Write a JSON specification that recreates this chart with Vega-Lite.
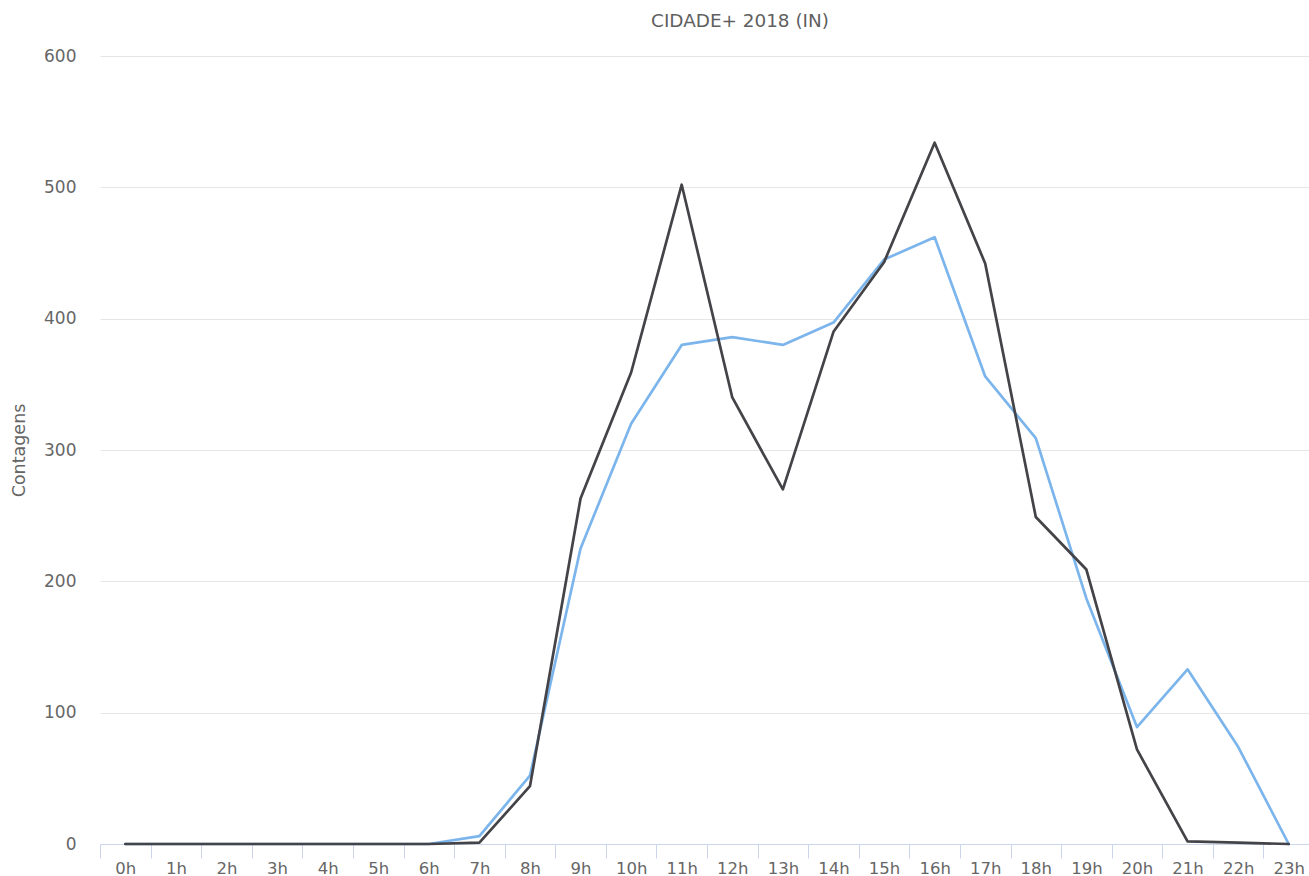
{
  "$schema": "https://vega.github.io/schema/vega-lite/v6.json",
  "autosize": "none",
  "width": 1214,
  "height": 788,
  "padding": {"left": 100, "top": 56, "right": -5, "bottom": 32},
  "background": "white",
  "title": {"text": "CIDADE+ 2018 (IN)", "font": "DejaVu Sans", "fontSize": 18.4, "fontWeight": "normal", "color": "#5f5f5f", "offset": 17, "anchor": "middle", "dx": 33},
  "config": {"view": {"stroke": null}, "font": "DejaVu Sans"},
  "data": {"values": [
    {"h": "0h", "s": "A", "v": 0}, {"h": "1h", "s": "A", "v": 0}, {"h": "2h", "s": "A", "v": 0}, {"h": "3h", "s": "A", "v": 0},
    {"h": "4h", "s": "A", "v": 0}, {"h": "5h", "s": "A", "v": 0}, {"h": "6h", "s": "A", "v": 0}, {"h": "7h", "s": "A", "v": 6},
    {"h": "8h", "s": "A", "v": 52}, {"h": "9h", "s": "A", "v": 225}, {"h": "10h", "s": "A", "v": 320}, {"h": "11h", "s": "A", "v": 380},
    {"h": "12h", "s": "A", "v": 386}, {"h": "13h", "s": "A", "v": 380}, {"h": "14h", "s": "A", "v": 397}, {"h": "15h", "s": "A", "v": 445},
    {"h": "16h", "s": "A", "v": 462}, {"h": "17h", "s": "A", "v": 356}, {"h": "18h", "s": "A", "v": 309}, {"h": "19h", "s": "A", "v": 187},
    {"h": "20h", "s": "A", "v": 89}, {"h": "21h", "s": "A", "v": 133}, {"h": "22h", "s": "A", "v": 74}, {"h": "23h", "s": "A", "v": 0},
    {"h": "0h", "s": "B", "v": 0}, {"h": "1h", "s": "B", "v": 0}, {"h": "2h", "s": "B", "v": 0}, {"h": "3h", "s": "B", "v": 0},
    {"h": "4h", "s": "B", "v": 0}, {"h": "5h", "s": "B", "v": 0}, {"h": "6h", "s": "B", "v": 0}, {"h": "7h", "s": "B", "v": 1},
    {"h": "8h", "s": "B", "v": 44}, {"h": "9h", "s": "B", "v": 263}, {"h": "10h", "s": "B", "v": 359}, {"h": "11h", "s": "B", "v": 502},
    {"h": "12h", "s": "B", "v": 340}, {"h": "13h", "s": "B", "v": 270}, {"h": "14h", "s": "B", "v": 390}, {"h": "15h", "s": "B", "v": 443},
    {"h": "16h", "s": "B", "v": 534}, {"h": "17h", "s": "B", "v": 442}, {"h": "18h", "s": "B", "v": 249}, {"h": "19h", "s": "B", "v": 209},
    {"h": "20h", "s": "B", "v": 72}, {"h": "21h", "s": "B", "v": 2}, {"h": "22h", "s": "B", "v": 1}, {"h": "23h", "s": "B", "v": 0}
  ]},
  "mark": {"type": "line", "strokeWidth": 2.7, "strokeJoin": "round", "strokeCap": "round"},
  "encoding": {
    "x": {
      "field": "h", "type": "nominal", "sort": null, "bandPosition": 0.5,
      "scale": {"type": "band", "paddingInner": 0, "paddingOuter": 0},
      "axis": {"title": null, "labelAngle": 0, "tickBand": "extent", "domainColor": "#ccd6eb", "domainWidth": 1, "tickColor": "#ccd6eb", "tickSize": 14, "labelColor": "#666666", "labelFontSize": 16.5, "labelPadding": 2, "grid": false}
    },
    "y": {
      "field": "v", "type": "quantitative",
      "scale": {"domain": [0, 600], "nice": false},
      "axis": {"title": "Contagens", "titleColor": "#666666", "titleFontSize": 17.5, "titleFontWeight": "normal", "titlePadding": 15, "values": [0, 100, 200, 300, 400, 500, 600], "labelColor": "#666666", "labelFontSize": 17, "labelPadding": 24, "domain": false, "ticks": false, "gridColor": "#e6e6e6", "gridWidth": 1}
    },
    "color": {"field": "s", "type": "nominal", "legend": null, "scale": {"domain": ["A", "B"], "range": ["#7cb5ec", "#434348"]}}
  }
}
